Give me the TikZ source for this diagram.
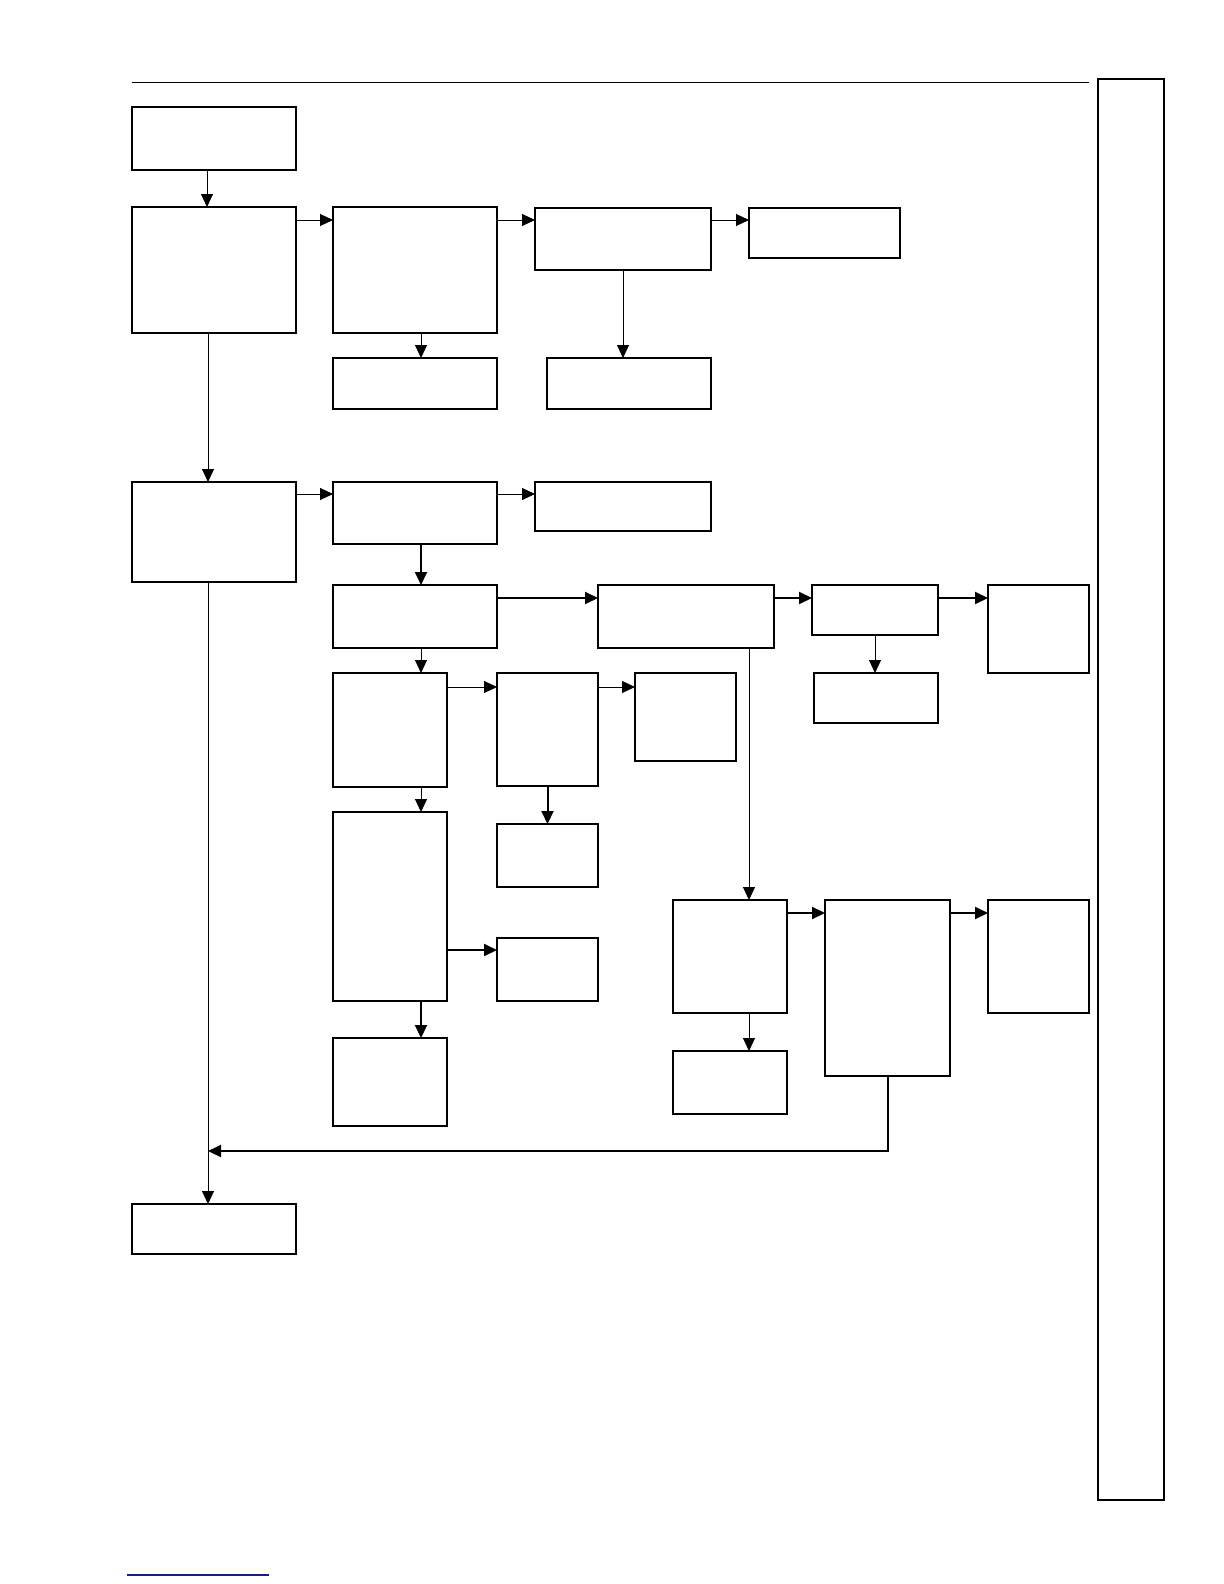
\documentclass[tikz,border=0pt]{standalone}
\usepackage{tikz}
\usetikzlibrary{arrows.meta,positioning,calc}
\usepackage{xcolor}
\definecolor{linkblue}{HTML}{1A1A8C}

\begin{document}
\begin{tikzpicture}[
  x=0.5pt,y=-0.5pt,
  box/.style={draw,rectangle,inner sep=0pt,outer sep=0pt,line width=0.55pt},
  boxthick/.style={box,line width=0.85pt},
  arr/.style={-{Triangle[length=6.5pt,width=6pt]},line width=0.5pt},
  arrthick/.style={arr,line width=1pt}
]
  \useasboundingbox (0,0) rectangle (1224,1584);

  % rule at top and side panel
  \draw[line width=0.5pt] (132,83) -- (1089,83);
  \node[box,minimum width=33pt,minimum height=710.5pt](side) at (1131,789.5){};

  % first branch
  \node[boxthick,minimum width=82pt,minimum height=31.5pt](start) at (214,138.5){};
  \node[box,minimum width=82pt,minimum height=63pt](stageA) at (214,270){};
  \node[box,minimum width=82pt,minimum height=63pt](checkA) at (415,270){};
  \node[box,minimum width=88pt,minimum height=31pt](testA) at (623,239){};
  \node[boxthick,minimum width=75.5pt,minimum height=25pt](resA) at (824.5,233){};
  \node[box,minimum width=82pt,minimum height=25.5pt](noteA) at (415,383.5){};
  \node[box,minimum width=82pt,minimum height=25.5pt](noteB) at (629,383.5){};

  % second branch
  \node[box,minimum width=82pt,minimum height=50pt](stageB) at (214,532){};
  \node[box,minimum width=82pt,minimum height=31pt](checkB) at (415,513){};
  \node[box,minimum width=88pt,minimum height=24.5pt](resB) at (623,506.5){};
  \node[box,minimum width=82pt,minimum height=31.5pt](splitB) at (415,616.5){};
  \node[box,minimum width=88pt,minimum height=31.5pt](testB) at (686,616.5){};
  \node[boxthick,minimum width=63pt,minimum height=25pt](optB) at (875,610){};
  \node[box,minimum width=50.5pt,minimum height=44pt](endB) at (1038.5,629){};
  \node[boxthick,minimum width=62pt,minimum height=25pt](subB) at (876,698){};

  % left column
  \node[boxthick,minimum width=57pt,minimum height=57pt](stepP) at (390,730){};
  \node[box,minimum width=50.5pt,minimum height=56.5pt](stepQ) at (547.5,729.5){};
  \node[boxthick,minimum width=50.5pt,minimum height=44pt](stepR) at (685.5,717){};
  \node[box,minimum width=50.5pt,minimum height=31.5pt](stepS) at (547.5,855.5){};
  \node[boxthick,minimum width=57pt,minimum height=94.5pt](stepT) at (390,906.5){};
  \node[box,minimum width=50.5pt,minimum height=31.5pt](stepU) at (547.5,969.5){};
  \node[boxthick,minimum width=57pt,minimum height=44pt](stepV) at (390,1082){};

  % right column
  \node[box,minimum width=57pt,minimum height=56.5pt](stepW) at (730,956.5){};
  \node[box,minimum width=57pt,minimum height=31.5pt](stepX) at (730,1082.5){};
  \node[boxthick,minimum width=62.5pt,minimum height=88pt](stepY) at (887.5,988){};
  \node[box,minimum width=50.5pt,minimum height=56.5pt](stepZ) at (1038.5,956.5){};

  \node[box,minimum width=82pt,minimum height=25pt](finish) at (214,1229){};
  \coordinate (merge) at (208,1151);

  % connectors
  \draw[arr]([xshift=-3.5pt]start.south) coordinate(t) -- (t |- stageA.north);
  \draw[arr]([yshift=-6.5pt]stageA.north east) coordinate(t) -- (t -| checkA.west);
  \draw[arr]([yshift=-6.5pt]checkA.north east) coordinate(t) -- (t -| testA.west);
  \draw[arr]([yshift=-6pt]testA.north east) coordinate(t) -- (t -| resA.west);
  \draw[arr]([xshift=3pt]checkA.south) coordinate(t) -- (t |- noteA.north);
  \draw[arr](testA.south) -- (testA.south |- noteB.north);
  \draw[arr]([xshift=-3pt]stageA.south) coordinate(t) -- (t |- stageB.north);

  \draw[arr]([yshift=-6pt]stageB.north east) coordinate(t) -- (t -| checkB.west);
  \draw[arr]([yshift=-6pt]checkB.north east) coordinate(t) -- (t -| resB.west);
  \draw[arrthick]([xshift=3pt]checkB.south) coordinate(t) -- (t |- splitB.north);
  \draw[arrthick]([yshift=-6.5pt]splitB.north east) coordinate(t) -- (t -| testB.west);
  \draw[arrthick]([yshift=-6.5pt]testB.north east) coordinate(t) -- (t -| optB.west);
  \draw[arrthick]([yshift=-6.5pt]optB.north east) coordinate(t) -- (t -| endB.west);
  \draw[arr](optB.south) -- (optB.south |- subB.north);

  \draw[arr]([xshift=3pt]splitB.south) coordinate(t) -- (t |- stepP.north);
  \draw[arr]([yshift=-7pt]stepP.north east) coordinate(t) -- (t -| stepQ.west);
  \draw[arr]([yshift=-7pt]stepQ.north east) coordinate(t) -- (t -| stepR.west);
  \draw[arrthick](stepQ.south) -- (stepS.north);
  \draw[arr]([xshift=15.5pt]stepP.south) coordinate(t) -- (t |- stepT.north);
  \path([yshift=-6pt]stepU.north west) coordinate(tu);
  \draw[arrthick](stepT.east |- tu) -- (tu);
  \draw[arrthick]([xshift=15.5pt]stepT.south) coordinate(t) -- (t |- stepV.north);

  \draw[arr]([xshift=-12.5pt]testB.south east) coordinate(t) -- (t |- stepW.north);
  \draw[arrthick]([yshift=-6.5pt]stepW.north east) coordinate(t) -- (t -| stepY.west);
  \draw[arrthick]([yshift=-6.5pt]stepY.north east) coordinate(t) -- (t -| stepZ.west);
  \draw[arr]([xshift=9.5pt]stepW.south) coordinate(t) -- (t |- stepX.north);
  \draw[arrthick](stepY.south) |- (merge);
  \draw[arr]([xshift=-3pt]stageB.south) coordinate(t) -- (t |- finish.north);

  % link underline
  \draw[linkblue,line width=0.7pt] (127,1575) -- (269,1575);
\end{tikzpicture}
\end{document}
